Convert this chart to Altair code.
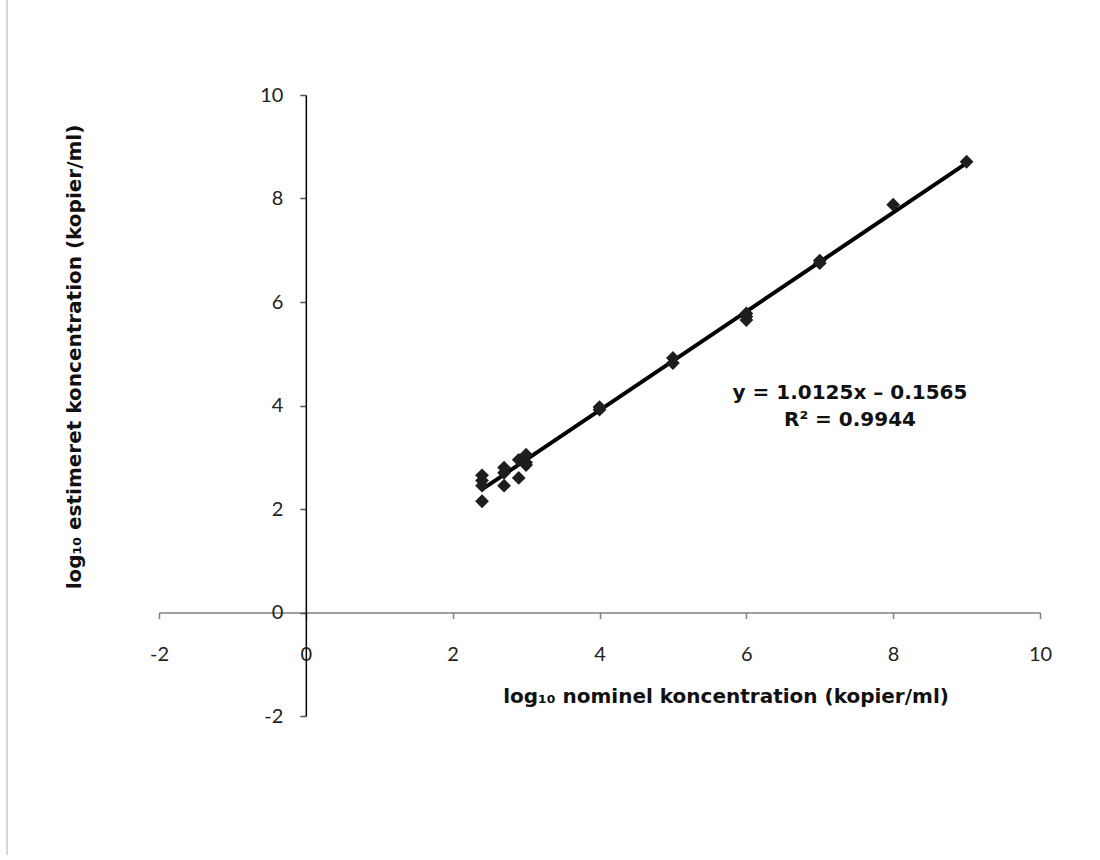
import altair as alt
import pandas as pd

# Measured data (log10 nominal vs log10 estimated)
nominal = [2.4, 2.4, 2.4, 2.4, 2.7, 2.7, 2.7, 2.9, 2.9, 3.0, 3.0, 3.0,
           4.0, 4.0, 5.0, 5.0, 6.0, 6.0, 6.0, 7.0, 7.0, 8.0, 9.0]
estimated = [2.65, 2.55, 2.45, 2.15, 2.8, 2.7, 2.45, 2.95, 2.6, 3.05, 2.9, 2.85,
             3.92, 3.97, 4.82, 4.92, 5.65, 5.72, 5.78, 6.75, 6.8, 7.88, 8.71]

axis_ticks = [-2, 0, 2, 4, 6, 8, 10]
eq_line1 = "y = 1.0125x \u2013 0.1565"
eq_line2 = "R\u00b2 = 0.9944"

x_title = "log\u2081\u2080 nominel koncentration (kopier/ml)"
y_title = "log\u2081\u2080 estimeret koncentration (kopier/ml)"

W, H = 881, 621
LABEL_FONT = "Lato"
BOLD_FONT = "DejaVu Sans"

pts = pd.DataFrame({"x": nominal, "y": estimated})

xscale = alt.Scale(domain=[-2, 10], nice=False, zero=False)
yscale = alt.Scale(domain=[-2, 10], nice=False, zero=False)

x_axis = alt.Axis(values=axis_ticks, title=None, grid=False, offset=-H * 2 / 12,
                  domainColor="#7f7f7f", domainWidth=1.5, tickColor="#7f7f7f",
                  tickWidth=1.5, tickSize=6, labelPadding=26, labelFont=LABEL_FONT,
                  labelFontSize=20, labelColor="#222222", labelFlush=False,
                  labelExpr="'' + datum.value", labelOverlap=False)
y_axis = alt.Axis(values=axis_ticks, title=None, grid=False, offset=-W * 2 / 12,
                  domainColor="#000000", domainWidth=1.5, tickColor="#555555",
                  tickWidth=1.5, tickSize=6, labelPadding=17, labelFont=LABEL_FONT,
                  labelFontSize=20, labelColor="#222222", labelFlush=False,
                  labelExpr="'' + datum.value", labelOverlap=False)

X = alt.X("x:Q", scale=xscale, axis=x_axis)
Y = alt.Y("y:Q", scale=yscale, axis=y_axis)

points = alt.Chart(pts).mark_point(shape="diamond", filled=True, size=190,
                                   color="#1e1e1e", opacity=1).encode(x=X, y=Y)

line = alt.Chart(pts).transform_regression("x", "y").mark_line(
    color="#000000", strokeWidth=4).encode(x=X, y=Y)


def txt(s, px, py, size, angle=0):
    return alt.Chart(pd.DataFrame({"t": [s]})).mark_text(
        font=BOLD_FONT, fontSize=size, fontWeight="bold", color="#111111",
        align="center", baseline="middle", angle=angle).encode(
        text="t:N", x=alt.value(px - 159), y=alt.value(py - 95))


eq1 = txt(eq_line1, 850, 393, 20)
eq2 = txt(eq_line2, 850, 420, 20)
xt = txt(x_title, 726, 697, 20)
yt = txt(y_title, 75, 357, 20, angle=270)

border = alt.Chart(pd.DataFrame({"a": [0]})).mark_rule(color="#c8c8c8", strokeWidth=1.5).encode(
    x=alt.value(7 - 159), y=alt.value(-95), y2=alt.value(855 - 95))

chart = alt.layer(border, line, points, eq1, eq2, xt, yt).properties(
    width=W, height=H,
    autosize=alt.AutoSizeParams(type="none"),
    padding={"left": 159, "top": 95, "right": 60, "bottom": 144},
).configure(background="white").configure_view(strokeWidth=0, strokeOpacity=0)

chart.save("out.html", embed_options={"renderer": "svg", "actions": False})
